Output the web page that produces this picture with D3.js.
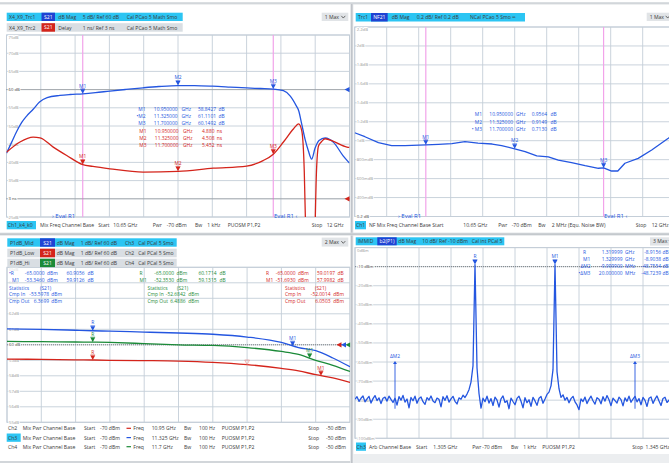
<!DOCTYPE html>
<html><head><meta charset="utf-8">
<script src="https://cdn.jsdelivr.net/npm/d3@7/dist/d3.min.js"></script>
<style>html,body{margin:0;padding:0;background:#fff}svg{display:block}</style>
</head><body><svg width="669" height="463"></svg>
<script>
// ================= DATA =================
// Panel 1: S21 dB magnitude and delay vs frequency (GHz)
const magFreq=[10.65,10.67,10.69,10.71,10.73,10.755,10.78,10.81,10.86,10.90,10.95,11.00,11.057,11.12,11.188,11.25,11.325,11.39,11.46,11.53,11.595,11.65,11.70,11.74,11.767,11.79,11.80,11.812,11.825,11.838,11.851,11.864,11.88,11.904,11.937,11.975,12.0];
const magDb=[42.5,45.5,48.5,51.0,52.8,54.6,56.6,57.8,58.4,58.65,58.84,59.15,59.6,60.05,60.5,60.85,61.11,61.1,60.95,60.7,60.45,60.3,60.15,59.7,58.2,55.6,54.2,50.5,46.4,43.2,40.9,43.8,46.0,46.7,45.5,41.8,39.8];
const delayFreq=[10.65,10.703,10.755,10.782,10.834,10.887,10.95,10.99,11.057,11.188,11.325,11.464,11.595,11.66,11.70,11.74,11.78,11.80,11.812,11.822,11.828,11.834,11.858,11.864,11.870,11.878,11.889,11.904,11.937,11.99,12.0];
const delayNs=[5.56,6.12,6.39,6.35,5.84,5.38,4.88,4.78,4.65,4.47,4.508,4.68,4.8,5.1,5.452,6.12,6.85,7.12,6.75,4.5,1.0,-3.5,-3.5,1.0,4.5,5.9,6.12,6.3,6.15,5.84,5.82];
const p1MarkerNames=["M1","M2","M3"];
const p1MarkerFreq=[10.95,11.325,11.70];
const p1MarkerFreqText=["10.950000","11.325000","11.700000"];
const p1MagMarker=[58.8427,61.1101,60.1492];
const p1DelayMarker=[4.880,4.508,5.452];
const p1YTicks=[25,30,35,40,45,50,55,60,65,70,75];
const p1YLabels=["25dB","3 ns","35dB","40dB","45dB","50dB","55dB","60 dB","65dB","70dB","75dB"];

// Panel 2: noise figure NF21 vs frequency
const nfFreq=[10.65,10.693,10.75,10.806,10.862,10.95,11.003,11.06,11.115,11.17,11.23,11.27,11.325,11.369,11.418,11.467,11.509,11.565,11.622,11.678,11.70,11.734,11.76,11.79,11.846,11.903,11.973,12.0];
const nfDb=[1.084,1.042,0.979,0.947,0.947,0.9564,0.962,0.97,0.99,0.975,0.965,0.948,0.9149,0.884,0.84,0.83,0.796,0.768,0.736,0.709,0.713,0.68,0.68,0.762,0.814,0.902,1.025,1.08];
const nfMarker=[0.9564,0.9149,0.7130];
const p2YTicks=[0.2,0.4,0.6,0.8,1.0,1.2,1.4,1.6,1.8,2.0,2.2];
const p2YLabels=["0.2 dB","400mdB","600mdB","800mdB","1dB","1.2dB","1.4dB","1.6dB","1.8dB","2dB","2.2dB"];

// Panel 3: P1dB sweeps, gain vs input power (dBm)
const pwrDbm=[-70,-68,-66,-65,-64,-62,-60,-58,-56,-54,-53,-52,-51,-50];
const gainMid=[61.03,61.0,60.94,60.9056,60.88,60.82,60.76,60.68,60.5,60.15,59.82,59.62,59.15,58.58];
const gainLow=[59.08,59.06,59.03,59.0197,59.0,58.98,58.95,58.87,58.72,58.48,58.32,58.07,57.86,57.57];
const gainHi=[60.22,60.2,60.18,60.1714,60.15,60.08,60.0,59.96,59.82,59.57,59.38,59.0,58.68,58.28];
const p3RefPwr=[-65,-65,-65];              // Mid, Low, Hi
const p3RefDb=[60.9056,59.0197,60.1714];
const p3M1Pwr=[-53.3460,-51.6930,-52.3530];
const p3M1Db=[59.9126,57.9982,59.1315];
const p3CmpIn=[-53.5978,-52.0014,-52.6842];
const p3CmpOut=[6.3699,6.0503,6.4886];
const p3YTicks=[55,56,57,58,59,60,61,62,63,64,65];
const p3YLabels=["55dB","56dB","57dB","58dB","59dB","60 dB","61dB","62dB","63dB","64dB","65dB"];

// Panel 4: IMD spectrum b2(P1), sweep 1.305..1.345 GHz, 161 points
const imdStart=1.305, imdStep=0.00025;
const imdDbm=[
-79.5,-78.2,-80.6,-79.0,-77.8,-80.9,-79.3,-78.0,-81.5,-79.2,
-77.6,-80.2,-78.8,-81.8,-79.0,-78.4,-80.5,-77.9,-79.6,-81.2,
-79.0,-82.6,-78.1,-80.0,-77.5,-81.0,-79.4,-84.0,-78.6,-80.3,
-77.9,-81.6,-79.1,-78.3,-80.8,-82.2,-78.7,-79.9,-77.8,-80.4,
-81.3,-78.9,-79.6,-83.5,-78.2,-80.1,-77.7,-81.0,-79.3,-78.0,
-80.6,-82.0,-78.8,-79.5,-77.4,-78.6,-76.8,-74.5,-70.5,-62.0,
-8.9156,-63.0,-76.5,-84.2,-79.0,-80.8,-77.9,-81.5,-79.2,-82.8,
-78.4,-80.0,-83.6,-79.3,-77.8,-81.2,-80.3,-84.5,-78.9,-80.7,
-82.4,-79.1,-77.9,-80.6,-84.0,-78.7,-81.3,-79.8,-83.2,-78.5,
-80.4,-82.7,-79.0,-78.1,-81.6,-79.4,-77.0,-75.8,-72.5,-64.0,
-8.9038,-65.0,-74.0,-78.5,-77.2,-80.0,-78.6,-81.4,-79.2,-78.0,
-80.9,-82.5,-85.0,-79.3,-80.7,-78.4,-81.8,-79.6,-77.9,-80.3,
-82.1,-78.7,-79.5,-81.9,-78.2,-80.5,-77.6,-79.8,-82.9,-78.9,
-80.2,-81.5,-78.4,-79.7,-83.0,-78.8,-80.6,-77.9,-81.1,-79.4,
-78.0,-80.9,-79.2,-82.4,-78.6,-80.1,-83.3,-79.0,-78.3,-81.7,
-79.5,-77.8,-80.4,-82.8,-79.1,-78.5,-81.2,-80.0,-78.7,-80.9,
-79.6];
const imdMarkerNames=["R","M1","\u0394M2","\u2022\u0394M3"];
const imdMarkerFreq=[1.319999,1.329999,1.31,1.34];
const imdMarkerStim=["1.319999","1.329999","-9.999900","20.000000"];
const imdMarkerUnit=["GHz","GHz","MHz","MHz"];
const imdMarkerVal=[-8.9156,-8.9038,-48.7554,-48.7239];
const p4YTicks=[-100,-90,-80,-70,-60,-50,-40,-30,-20,-10,0];
const p4YLabels=["-100dBm","-90dBm","-80dBm","-70dBm","-60dBm","-50dBm","-40dBm","-30dBm","-20dBm","-10 dBm","0dBm"];

// ================= DRAWING =================
const svg=d3.select('svg').attr('font-family','"Open Sans","Noto Sans",Roboto,sans-serif');
const C={blue:'#2456e0',red:'#d4241b',green:'#1b8a38',cyan:'#2cc5f3',navy:'#1f43d3',hg:'#d9dee3',
  grid:'#c4ced8',mag:'#f2a3ea',ax:'#9a9a9a'};
svg.append('rect').attr('width',669).attr('height',463).attr('fill','#fff');

function T(g,x,y,s,o={}){
  const t=g.append('text').attr('x',x).attr('y',y).attr('font-size',o.fs||5.1)
    .attr('fill',o.c||'#3a3a3a').attr('text-anchor',o.a||'start').attr('dominant-baseline','central').text(s);
  if(o.halo) t.attr('stroke','#fff').attr('stroke-width',1.8).attr('paint-order','stroke');
  if(o.w) t.attr('font-weight',o.w);
  return t;
}
function R(g,x,y,w,h,f){return g.append('rect').attr('x',x).attr('y',y).attr('width',w).attr('height',h).attr('fill',f);}
function maxBox(g,x,y,w,h,label){
  R(g,x,y,w,h,'#e1e4e7'); T(g,x+3,y+h/2,label,{fs:5.1});
  const cx=x+w-5,cy=y+h/2;
  g.append('path').attr('d',`M${cx-2},${cy-1}L${cx},${cy+1.2}L${cx+2},${cy-1}`).attr('fill','none').attr('stroke','#333').attr('stroke-width',0.7);
}
function chip(g,x,y,w,h,fill,s){R(g,x,y,w,h,fill);T(g,x+w/2,y+h/2,s,{c:'#fff',a:'middle',fs:5.1});}

function frame(id,xs,ys,xTicks,yTicks,yLabels,refVals,darkVals){
  const g=svg.append('g');
  const [x0,x1]=xs.range(), [yb,yt]=ys.range();
  g.append('clipPath').attr('id',id).append('rect').attr('x',x0).attr('y',yt).attr('width',x1-x0).attr('height',yb-yt);
  g.selectAll(null).data(xTicks).join('line').attr('x1',d=>xs(d)).attr('x2',d=>xs(d)).attr('y1',yt).attr('y2',yb)
    .attr('stroke',C.grid).attr('stroke-width',0.9);
  g.selectAll(null).data(yTicks).join('line').attr('x1',x0).attr('x2',x1).attr('y1',d=>ys(d)).attr('y2',d=>ys(d))
    .attr('stroke',C.grid).attr('stroke-width',0.9);
  g.append('rect').attr('x',x0).attr('y',yt).attr('width',x1-x0).attr('height',yb-yt).attr('fill','none').attr('stroke',C.grid);
  g.layer=g.append('g');
  refVals.forEach(v=>g.append('line').attr('x1',x0).attr('x2',x1).attr('y1',ys(v)).attr('y2',ys(v))
    .attr('stroke','#666').attr('stroke-width',0.8).attr('stroke-dasharray','1,1'));
  g.labels=g.append('g');
  const dark=refVals.concat(darkVals||[]);
  yTicks.forEach((v,i)=>{
    const isRef=dark.includes(v);
    T(g.labels,x0+2,ys(v)+(i===yTicks.length-1?2.5:0),yLabels[i],{fs:4.2,c:isRef?'#444':C.ax,halo:true});
  });
  g.clip=id;
  return g;
}
function mark(g,x,y,label,color){
  g.append('path').attr('d',`M${x-2.4},${y-4.6}L${x+2.4},${y-4.6}L${x},${y}Z`).attr('fill',color);
  g.append('line').attr('x1',x-2.4).attr('x2',x+2.4).attr('y1',y-5).attr('y2',y-5).attr('stroke',color).attr('stroke-width',0.6);
  T(g,x,y-8.3,label,{fs:4.9,c:color,a:'middle'});
}
function refArrow(g,x,y,color){
  g.append('path').attr('d',`M${x},${y-2.6}L${x},${y+2.6}L${x-5},${y}Z`).attr('fill',color);
}
function trace(g,xs,ys,X,Y,color,curve){
  const line=d3.line().x((d,i)=>xs(X[i])).y(d=>ys(d)).curve(curve||d3.curveLinear);
  g.append('path').attr('clip-path',`url(#${g.clip})`).attr('d',line(Y)).attr('fill','none')
    .attr('stroke',color).attr('stroke-width',1.3).attr('stroke-linejoin','round');
}
const fsText=4.9;

// ---------- Panel 1 ----------
{
  const xs=d3.scaleLinear().domain([10.65,12]).range([6.5,349.5]);
  const ys=d3.scaleLinear().domain([25,75]).range([217,35]);
  const yd=d3.scaleLinear().domain([2,12]).range([217,35]);   // 1 ns/div, Ref 3 ns on 2nd line
  const xt=d3.range(11).map(i=>10.65+i*0.135);
  const g=frame('c1',xs,ys,xt,p1YTicks,p1YLabels,[60,30]);
  [10.95,11.70].forEach(f=>g.layer.append('line').attr('x1',xs(f)).attr('x2',xs(f)).attr('y1',35).attr('y2',217).attr('stroke',C.mag).attr('stroke-width',1.2));
  trace(g,xs,ys,magFreq,magDb,C.blue,d3.curveMonotoneX);
  trace(g,xs,yd,delayFreq,delayNs,C.red,d3.curveMonotoneX);
  p1MarkerFreq.forEach((f,i)=>{mark(g,xs(f),ys(p1MagMarker[i]),p1MarkerNames[i],C.blue);
    mark(g,xs(f),yd(p1DelayMarker[i]),p1MarkerNames[i],C.red);});
  refArrow(g,349.5,ys(60),C.blue); refArrow(g,349.5,ys(30),C.red);
  p1MarkerNames.forEach((n,i)=>{
    const y=108.5+i*7;
    T(g,145.5,y,(i===1?'\u2022':'')+n,{c:C.blue,a:'end',fs:fsText});
    T(g,177.5,y,p1MarkerFreqText[i],{c:C.blue,a:'end',fs:fsText});
    T(g,181.5,y,'GHz',{c:C.blue,fs:fsText});
    T(g,216,y,p1MagMarker[i].toFixed(4),{c:C.blue,a:'end',fs:fsText});
    T(g,218.5,y,'dB',{c:C.blue,fs:fsText});
    const y2=130.5+i*7;
    T(g,146.5,y2,n,{c:C.red,a:'end',fs:fsText});
    T(g,178.5,y2,p1MarkerFreqText[i],{c:C.red,a:'end',fs:fsText});
    T(g,183,y2,'GHz',{c:C.red,fs:fsText});
    T(g,214.5,y2,p1DelayMarker[i].toFixed(3),{c:C.red,a:'end',fs:fsText});
    T(g,216.8,y2,'ns',{c:C.red,fs:fsText});
  });
  T(g,52,216.3,'\u203A Eval R1',{fs:6,c:C.blue});
  T(g,274,216.3,'Eval R1 \u2039',{fs:6,c:C.blue});
  R(g,6.7,12.7,176,8.3,C.cyan); chip(g,41.5,12.7,13.5,8.3,C.navy,'S21');
  T(g,9,16.9,'X4_X9_Trc1'); T(g,58.3,16.9,'dB Mag'); T(g,82.7,16.9,'5 dB/ Ref 60 dB'); T(g,126.7,16.9,'Cal PCao 5 Math Smo');
  R(g,6.7,23.2,176,8.5,C.hg); chip(g,41.5,23.2,13.5,8.5,C.red,'S21');
  T(g,9,27.5,'X4_X9_Trc2'); T(g,58.3,27.5,'Delay'); T(g,82.7,27.5,'1 ns/ Ref 3 ns'); T(g,126.7,27.5,'Cal PCao 5 Math Smo');
  maxBox(g,321.7,12.7,26.6,8.3,'1 Max');
  R(g,6.7,221,29.3,8.3,C.cyan); const fy=225.1;
  T(g,7.8,fy,'Ch1_k4_k0'); T(g,40,fy,'Mix Freq Channel Base'); T(g,98.3,fy,'Start'); T(g,113.3,fy,'10.65 GHz');
  T(g,152.7,fy,'Pwr'); T(g,166.7,fy,'-70 dBm'); T(g,195,fy,'Bw'); T(g,207.3,fy,'1 kHz'); T(g,227.7,fy,'PUOSM P1,P2');
  T(g,311.7,fy,'Stop'); T(g,326.7,fy,'12 GHz');
}

// ---------- Panel 2 ----------
{
  const xs=d3.scaleLinear().domain([10.65,12]).range([354.7,674.7]);
  const ys=d3.scaleLinear().domain([0.2,2.2]).range([216.5,27]);
  const xt=d3.range(11).map(i=>10.65+i*0.135);
  const g=frame('c2',xs,ys,xt,p2YTicks,p2YLabels,[],[0.2]);
  [10.95,11.70].forEach(f=>g.layer.append('line').attr('x1',xs(f)).attr('x2',xs(f)).attr('y1',27).attr('y2',216.5).attr('stroke',C.mag).attr('stroke-width',1.2));
  trace(g,xs,ys,nfFreq,nfDb,C.blue,d3.curveLinear);
  p1MarkerFreq.forEach((f,i)=>mark(g,xs(f),ys(nfMarker[i]),p1MarkerNames[i],C.blue));
  p1MarkerNames.forEach((n,i)=>{
    const y=114+i*7.5;
    T(g,482,y,(i===2?'\u2022 ':'')+n,{c:C.blue,a:'end',fs:fsText});
    T(g,513,y,p1MarkerFreqText[i],{c:C.blue,a:'end',fs:fsText});
    T(g,516,y,'GHz',{c:C.blue,fs:fsText});
    T(g,547,y,nfMarker[i].toFixed(4),{c:C.blue,a:'end',fs:fsText});
    T(g,550.5,y,'dB',{c:C.blue,fs:fsText});
  });
  T(g,398,216.3,'\u203A Eval R1',{fs:6,c:C.blue});
  T(g,604,216.3,'Eval R1 \u2039',{fs:6,c:C.blue});
  R(g,355.7,13,169.3,8.5,C.cyan); chip(g,371,13,16.7,8.5,C.navy,'NF21');
  T(g,358,17.2,'Trc1'); T(g,391.7,17.2,'dB Mag'); T(g,416.7,17.2,'0.2 dB/ Ref 0.2 dB'); T(g,470,17.2,'NCal PCao 5 Smo \u221E');
  maxBox(g,646.7,12.7,26,8.3,'1 Max');
  R(g,355,221,11,8.3,C.cyan); const fy=225.1;
  T(g,356,fy,'Ch1'); T(g,369,fy,'NF Mix Freq Channel Base'); T(g,432.3,fy,'Start'); T(g,463.3,fy,'10.65 GHz');
  T(g,498.3,fy,'Pwr'); T(g,511.7,fy,'-70 dBm'); T(g,538.3,fy,'Bw'); T(g,551.7,fy,'2 MHz (Equ. Noise BW)');
  T(g,635.7,fy,'Stop'); T(g,651.7,fy,'12 GHz');
}

// ---------- Panel 3 ----------
{
  const xs=d3.scaleLinear().domain([-70,-50]).range([7,350]);
  const ys=d3.scaleLinear().domain([55,65]).range([422.3,267.3]);
  const xt=d3.range(11).map(i=>-70+i*2);
  const g=frame('c3',xs,ys,xt,p3YTicks,p3YLabels,[60]);
  g.labels.selectAll('text').filter((d,i)=>i>=8).attr('opacity',0.3).attr('font-size',3.8);
  const series=[gainMid,gainLow,gainHi], cols=[C.blue,C.red,C.green];
  series.forEach((s,i)=>trace(g,xs,ys,pwrDbm,s,cols[i],d3.curveMonotoneX));
  series.forEach((s,i)=>{mark(g,xs(p3RefPwr[i]),ys(p3RefDb[i]),'R',cols[i]);
    mark(g,xs(p3M1Pwr[i]),ys(p3M1Db[i]),'M1',cols[i]);});
  g.append('path').attr('d',`M${xs(-56)-2.4},${ys(58.72)-4.6}L${xs(-56)+2.4},${ys(58.72)-4.6}L${xs(-56)},${ys(58.72)}Z`)
    .attr('fill','none').attr('stroke','#f08a84').attr('stroke-width',0.6);
  refArrow(g,341.5,ys(60),C.red); refArrow(g,346,ys(60),C.blue); refArrow(g,350.5,ys(60),C.green);
  const grp=[{i:0,c:C.blue,lx:9,v1:44.5,u1:47,v2:84.5,u2:87.5,sx:9,sp:40,sv:49,su:51.3},
             {i:2,c:C.green,lx:139.5,v1:174,u1:176.5,v2:216.5,u2:219.5,sx:147.5,sp:177,sv:185.5,su:188.3},
             {i:1,c:C.red,lx:266,v1:295.5,u1:298,v2:335,u2:337.5,sx:285,sp:315,sv:330.5,su:333.3}];
  grp.forEach(q=>{
    const o={c:q.c,fs:fsText};
    T(g,q.lx,273.3,(q.i===0?'\u2022':'')+'R',o); T(g,q.v1,273.3,p3RefPwr[q.i].toFixed(4),{...o,a:'end'});
    T(g,q.u1,273.3,'dBm',o); T(g,q.v2,273.3,p3RefDb[q.i].toFixed(4),{...o,a:'end'}); T(g,q.u2,273.3,'dB',o);
    T(g,q.lx+(q.i===0?3:0),280.2,'M1',o); T(g,q.v1,280.2,p3M1Pwr[q.i].toFixed(4),{...o,a:'end'});
    T(g,q.u1,280.2,'dBm',o); T(g,q.v2,280.2,p3M1Db[q.i].toFixed(4),{...o,a:'end'}); T(g,q.u2,280.2,'dB',o);
    T(g,q.sx,287.6,'Statistics',o); T(g,q.sp,287.6,'(S21)',o);
    T(g,q.sx,294.2,'Cmp In',o); T(g,q.sv,294.2,p3CmpIn[q.i].toFixed(4),{...o,a:'end'}); T(g,q.su,294.2,'dBm',o);
    T(g,q.sx,300.7,'Cmp Out',o); T(g,q.sv,300.7,p3CmpOut[q.i].toFixed(4),{...o,a:'end'}); T(g,q.su,300.7,'dBm',o);
  });
  R(g,7.3,238.3,169.4,8.4,C.cyan); chip(g,40,238.3,15,8.4,C.navy,'S21');
  T(g,10,242.6,'P1dB_Mid'); T(g,56.7,242.6,'dB Mag'); T(g,80.7,242.6,'1 dB/ Ref 60 dB'); T(g,125,242.6,'Ch3'); T(g,138.3,242.6,'Cal PCal 5 Smo');
  R(g,7.3,248.7,169.4,8.6,C.hg); chip(g,40,248.7,15,8.6,C.red,'S21');
  T(g,10,253,'P1dB_Low'); T(g,56.7,253,'dB Mag'); T(g,80.7,253,'1 dB/ Ref 60 dB'); T(g,125,253,'Ch2'); T(g,138.3,253,'Cal PCal 5 Smo');
  R(g,7.3,258.7,169.4,8.4,C.hg); chip(g,40,258.7,15,8.4,C.green,'S21');
  T(g,10,262.9,'P1dB_Hi'); T(g,56.7,262.9,'dB Mag'); T(g,80.7,262.9,'1 dB/ Ref 60 dB'); T(g,125,262.9,'Ch4'); T(g,138.3,262.9,'Cal PCal 5 Smo');
  maxBox(g,321.7,237.6,26.6,9,'2 Max');
  const rows=[{ch:'Ch2',f:'10.95 GHz',c:C.red,y:428.3},{ch:'Ch3',f:'11.325 GHz',c:C.blue,y:437.6},{ch:'Ch4',f:'11.7 GHz',c:C.green,y:446.7}];
  R(g,6.7,433.5,14,8.3,C.cyan);
  rows.forEach(r=>{
    T(g,8,r.y,r.ch); T(g,22.7,r.y,'Mix Pwr Channel Base'); T(g,84,r.y,'Start'); T(g,100,r.y,'-70 dBm');
    g.append('line').attr('x1',126.5).attr('x2',131).attr('y1',r.y).attr('y2',r.y).attr('stroke',r.c).attr('stroke-width',1.2);
    T(g,133.3,r.y,'Freq'); T(g,151.7,r.y,r.f); T(g,184,r.y,'Bw'); T(g,199,r.y,'100 Hz'); T(g,221.7,r.y,'PUOSM P1,P2');
    T(g,308.3,r.y,'Stop'); T(g,326,r.y,'-50 dBm');
  });
}

// ---------- Panel 4 ----------
{
  const xs=d3.scaleLinear().domain([1.305,1.345]).range([355,675]);
  const ys=d3.scaleLinear().domain([-100,0]).range([438.3,247.6]);
  const xt=d3.range(11).map(i=>1.305+i*0.004);
  const g=frame('c4',xs,ys,xt,p4YTicks,p4YLabels,[-10]);
  const fx=imdDbm.map((d,i)=>imdStart+i*imdStep);
  trace(g,xs,ys,fx,imdDbm,C.blue,d3.curveLinear);
  mark(g,xs(imdMarkerFreq[0]),ys(imdMarkerVal[0]),'R',C.blue);
  mark(g,xs(imdMarkerFreq[1]),ys(imdMarkerVal[1]),'M1',C.blue);
  [2,3].forEach(i=>{
    const x=xs(imdMarkerFreq[i]), yt=ys(imdMarkerVal[0]+imdMarkerVal[i])+3.5, yb=ys(-84.5);
    g.append('line').attr('x1',x).attr('x2',x).attr('y1',yt+2).attr('y2',yb).attr('stroke',C.blue).attr('stroke-width',0.9);
    g.append('path').attr('d',`M${x-2},${yt+3}L${x+2},${yt+3}L${x},${yt}Z`).attr('fill',C.blue);
    T(g,x,yt-4.8,imdMarkerNames[i].replace('\u2022',''),{fs:4.9,c:C.blue,a:'middle'});
  });
  imdMarkerNames.forEach((n,i)=>{
    const y=251.7+i*7.1, o={c:C.blue,fs:fsText};
    T(g,i===3?578.5:(i===2?580.5:583),y,n,o);
    T(g,622.5,y,imdMarkerStim[i],{...o,a:'end'}); T(g,625,y,imdMarkerUnit[i],o);
    T(g,661,y,imdMarkerVal[i].toFixed(4),{...o,a:'end'}); T(g,662.5,y,'dB',o);
  });
  R(g,355.7,237.3,148.6,8,C.cyan); chip(g,377.3,237.3,19.4,8,C.navy,'b2(P1)');
  T(g,357.7,241.4,'IMMID'); T(g,398.3,241.4,'dB Mag'); T(g,422.3,241.4,'10 dB/ Ref -10 dBm'); T(g,471.7,241.4,'Cal int PCal 5');
  maxBox(g,650,237.3,26,8.3,'3 Max');
  R(g,356,442.5,10,8.3,C.cyan); const fy=446.7;
  T(g,356.6,fy,'Ch3'); T(g,369,fy,'Arb Channel Base'); T(g,416,fy,'Start'); T(g,433.3,fy,'1.305 GHz');
  T(g,472.3,fy,'Pwr'); T(g,482.3,fy,'-70 dBm'); T(g,511,fy,'Bw'); T(g,523.3,fy,'1 kHz'); T(g,542.3,fy,'PUOSM P1,P2');
  T(g,632.3,fy,'Stop'); T(g,645.5,fy,'1.345 GHz');
}

// ---------- separators / frame ----------
svg.append('rect').attr('x',0).attr('y',2.2).attr('width',669).attr('height',2.2).attr('fill','#d2d6da');
svg.append('rect').attr('x',350.3).attr('y',4).attr('width',3).attr('height',459).attr('fill','#dde0e3');
svg.append('line').attr('x1',351.8).attr('x2',351.8).attr('y1',4).attr('y2',463).attr('stroke','#a9afb5').attr('stroke-width',0.8);
svg.append('rect').attr('x',0).attr('y',232.6).attr('width',669).attr('height',3).attr('fill','#dde0e3');
svg.append('line').attr('x1',0).attr('x2',669).attr('y1',234.1).attr('y2',234.1).attr('stroke','#a9afb5').attr('stroke-width',0.8);
svg.append('rect').attr('x',353.3).attr('y',454).attr('width',316).attr('height',9).attr('fill','#eceef0');
svg.append('rect').attr('x',0).attr('y',461).attr('width',350.3).attr('height',2).attr('fill','#d2d6da');
</script></body></html>
